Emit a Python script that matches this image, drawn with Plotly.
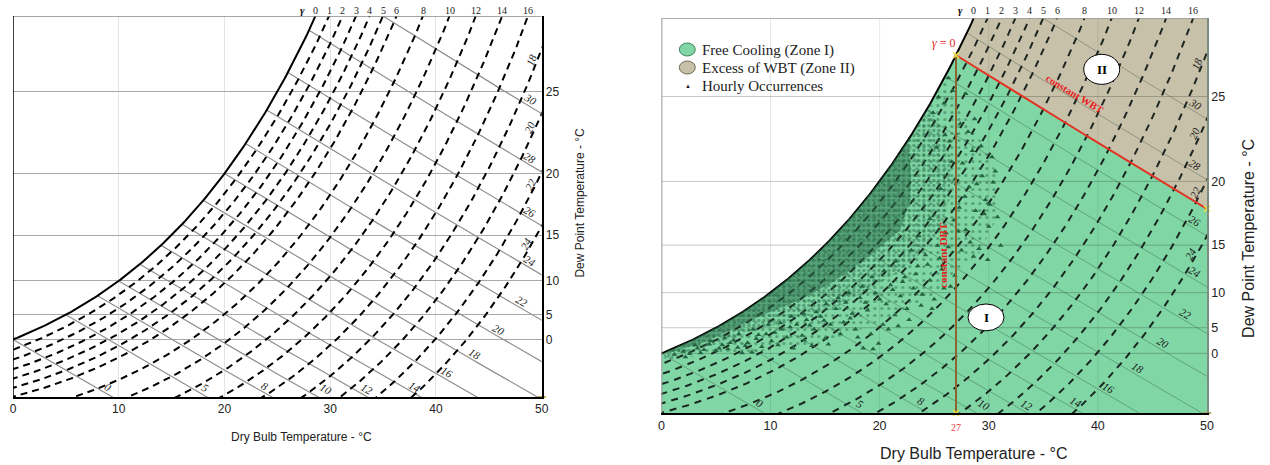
import numpy as np
import plotly.graph_objects as go

# ---------------- chart values ----------------
dbt_ticks = [0, 10, 20, 30, 40, 50]
dew_point_ticks = [0, 5, 10, 15, 20, 25]
wet_bulb_lines = [0, 5, 8, 10, 12, 14, 16, 18, 20, 22, 24, 26, 28, 30]
wet_bulb_label_dbt = [9.0, 18.2, 23.8, 29.6, 33.5, 38.0, 41.0, 43.7, 46.0, 48.1, 48.9, 48.9, 48.9, 48.9]
gamma_lines = [1, 2, 3, 4, 5, 6, 8, 10, 12, 14, 16, 18, 20, 22, 24]
gamma_top_labels = [0, 1, 2, 3, 4, 5, 6, 8, 10, 12, 14, 16]
gamma_side_labels = [18, 20, 22, 24]
gamma_side_label_w = [22.1, 17.7, 14.0, 10.1]
dbt_limit = 27.0          # constant DBT boundary
wbt_limit = 27.0          # constant WBT boundary
W_TOP = 25.0              # humidity ratio range, g/kg

# hourly occurrences (right chart): lower edges of the dense core, medium and light zones
core_lower_dbt = [0.5, 4.0, 9.0, 12.5, 15.8, 19.0, 21.9, 22.8, 22.9]
core_lower_w = [3.75, 4.5, 6.1, 7.1, 8.3, 9.9, 11.6, 13.5, 15.0]
mid_lower_dbt = [0.3, 4.0, 9.0, 12.5, 15.8, 19.0, 21.9, 24.0, 25.5, 26.4, 26.6, 25.6, 24.6]
mid_lower_w = [3.5, 4.2, 5.3, 6.0, 6.6, 7.8, 9.0, 10.2, 11.5, 13.5, 16.0, 18.2, 19.2]
light_lower_dbt = [0.3, 4.0, 9.0, 14.0, 18.0, 22.0, 25.0, 27.0, 29.0, 30.5, 31.0, 30.0, 28.5, 27.0, 26.1]
light_lower_w = [3.2, 3.7, 3.9, 4.3, 5.2, 6.4, 7.5, 9.0, 10.0, 12.0, 14.5, 16.5, 18.0, 19.8, 21.0]
# individual scattered hours
sparse_dbt = [1.2, 2.0, 2.6, 3.3, 3.9, 4.4, 5.0, 5.6, 6.1, 6.6, 7.0, 7.4, 7.9, 8.3, 8.7,
              9.2, 9.6, 10.1, 10.7, 11.0, 11.5, 12.1, 12.4, 12.9, 13.3, 13.8, 14.0, 14.6, 15.0,
              15.5, 16.0, 16.4, 16.9, 17.3, 17.8, 18.2, 18.5, 18.9, 19.4, 19.6, 19.9, 20.3, 20.6,
              21.0, 21.4, 21.9, 22.3, 22.7,
              23.1, 23.5, 23.8, 24.2, 24.6, 25.0, 25.3, 25.7, 26.1, 26.5, 26.8,
              27.3, 27.6, 27.9, 28.2, 28.5, 28.8, 29.1, 29.4, 29.7, 30.0, 30.4, 30.8, 31.1, 29.9,
              28.1, 28.6, 27.5, 30.3,
              24.9, 25.4, 25.9, 26.3, 26.7, 26.0, 25.2, 26.6,
              2.2, 3.6, 5.3, 6.3, 7.7, 8.9, 10.4, 11.8, 13.1, 13.6, 14.9, 15.3, 16.7, 17.5, 18.0,
              18.7, 19.2, 20.0, 20.8, 21.2, 21.7, 22.1, 22.5, 23.3, 23.9, 24.4, 24.8, 25.5, 25.9,
              26.3, 26.9, 27.2, 27.8, 28.3, 28.9, 29.6, 30.1, 30.6, 29.3, 28.7, 27.9, 27.4, 26.9,
              26.4, 25.6, 24.6, 23.6, 22.9, 21.5, 20.4, 19.3, 18.4, 17.2, 16.2, 15.1, 14.2, 13.0,
              11.9, 10.9, 9.8, 8.4, 7.1, 5.8, 4.5, 3.1]
sparse_w = [3.7, 3.9, 3.75, 4.1, 4.0, 4.35, 3.95, 4.3, 4.05, 4.6, 4.15, 3.8, 4.45, 3.85, 4.7,
            4.2, 5.0, 4.55, 4.3, 5.3, 4.8, 4.1, 5.6, 4.9, 5.9, 4.25, 5.3, 6.1, 4.7,
            5.6, 6.6, 5.0, 7.0, 6.0, 5.3, 7.3, 4.1, 6.5, 4.05, 7.6, 4.4, 5.6, 6.9,
            8.1, 6.2, 7.4, 8.6, 5.9,
            7.9, 9.3, 6.8, 10.0, 8.4, 7.2, 10.6, 9.1, 11.4, 8.0, 12.2,
            13.0, 15.8, 11.6, 14.3, 16.6, 12.8, 10.4, 15.0, 13.5, 11.8, 14.6, 12.4, 10.6, 9.7,
            17.8, 9.9, 10.3, 16.2,
            19.0, 20.0, 19.6, 21.2, 20.4, 17.6, 16.8, 15.9,
            3.55, 3.8, 4.1, 4.45, 4.25, 4.95, 5.1, 5.45, 4.6, 5.55, 5.85, 4.35, 5.75, 6.3, 4.8,
            7.0, 5.0, 7.2, 5.3, 7.8, 5.5, 8.3, 6.6, 8.8, 7.5, 9.4, 6.6, 9.8, 7.9,
            10.5, 8.7, 11.5, 13.7, 10.8, 14.5, 12.6, 13.2, 15.3, 16.9, 18.6, 20.2, 18.3, 14.8,
            17.2, 14.2, 12.3, 11.2, 10.3, 9.6, 9.0, 8.6, 8.0, 7.6, 7.3, 6.9, 6.4, 6.3,
            6.1, 5.7, 5.6, 5.3, 5.0, 4.75, 4.55, 4.3]


# ---------------- psychrometrics (101.325 kPa) ----------------
def pws(t):
    return 0.61094 * np.exp(17.625 * t / (t + 243.04))


def ws(t):
    p = pws(t)
    return 621.945 * p / (101.325 - p)


def w_wb(t, twb):
    W = ws(twb) / 1000.0
    return 1000.0 * ((2501 - 2.326 * twb) * W - 1.006 * (t - twb)) / (2501 + 1.86 * t - 4.186 * twb)


def w_gamma(t, g):
    return w_wb(t, t - g)


# ---------------- layout geometry (page pixels) ----------------
WIDTH, HEIGHT = 1270, 465
L_X = [10, 540]; L_Y = [397, 16]
R_X = [660, 1207]; R_Y = [413, 18]
ML = L_X[0]
MT = L_Y[1]
MR = WIDTH - R_X[1]
MB = HEIGHT - R_Y[0]
PW, PH = WIDTH - ML - MR, HEIGHT - MT - MB


def px(x):
    return (x - ML) / PW


def py(y):
    return (HEIGHT - MB - y) / PH


def dom_x(a, b):
    return [px(a), px(b)]


def dom_y(bot, top):
    return [py(bot), py(top)]


SERIF = "Liberation Serif, Times New Roman, serif"
SANS = "Liberation Sans, Arial, sans-serif"

fig = go.Figure()


def line(xa, ya, x, y, color, width, dash=None):
    fig.add_trace(go.Scatter(x=x, y=y, mode="lines", xaxis=xa, yaxis=ya,
                             line=dict(color=color, width=width, dash=dash),
                             hoverinfo="skip", showlegend=False))


def psychro(xa, ya, wb_color, wb_w, d_color, d_w, d_pat):
    for twb in wet_bulb_lines:
        t = np.linspace(twb, 62, 130)
        line(xa, ya, t, w_wb(t, twb), wb_color, wb_w)
    for g in gamma_lines:
        twb = np.linspace(-30, 45, 500)
        t = twb + g
        line(xa, ya, t, w_wb(t, twb), d_color, d_w, d_pat)
    t = np.linspace(-10, 35, 300)
    line(xa, ya, t, ws(t), "black", 2)


def ann(x, y, text, size, color, family=SERIF, xref="paper", yref="paper", angle=0, **kw):
    fig.add_annotation(x=x, y=y, xref=xref, yref=yref, text=text, showarrow=False,
                       textangle=angle, font=dict(family=family, size=size, color=color),
                       **({"xanchor": "center", "yanchor": "middle"} | kw))


def labels(xa, ya, sx, sy, color):
    for twb, tl in zip(wet_bulb_lines, wet_bulb_label_dbt):
        wl = max(w_wb(tl, twb), 0) + 0.5
        sl = (w_wb(tl + 0.05, twb) - w_wb(tl - 0.05, twb)) / 0.1
        ang = np.degrees(np.arctan2(-sl * sy, sx))
        ann(tl, wl, f"<i>{twb}</i>", 11, color, xref=xa, yref=ya, angle=ang)
    tg = np.linspace(0, 62, 4000)
    for g in gamma_top_labels:
        ttop = np.interp(W_TOP, w_gamma(tg, g), tg)
        ann(ttop, py(10.5), str(g), 10, "#222", xref=xa)
        if g == 0:
            ann(ttop - 1.25, py(10.5), "<b><i>γ</i></b>", 11, "#111", xref=xa)
    for g, wl in zip(gamma_side_labels, gamma_side_label_w):
        tl = float(np.interp(wl, w_gamma(tg, g), tg))
        sl = (w_gamma(tl + 0.05, g) - w_gamma(tl - 0.05, g)) / 0.1
        ang = np.degrees(np.arctan2(-sl * sy, sx))
        ann(tl - 0.55, wl, f"<i>{g}</i>", 11, color, xref=xa, yref=ya, angle=ang)


dew_w = [float(ws(t)) for t in dew_point_ticks]
dew_txt = [str(t) for t in dew_point_ticks]

# ================= LEFT CHART =================
psychro("x", "y", "#8f8f8f", 1.2, "black", 2, "7px,5px")
lsx = (L_X[1] - L_X[0]) / 50.0
lsy = (L_Y[0] - L_Y[1]) / W_TOP
labels("x", "y", lsx, lsy, "#222")

# ================= RIGHT CHART =================
GREEN = "rgb(128,214,165)"
TAN = "rgb(200,193,170)"
DK = "rgb(36,100,65)"
t_sat = np.linspace(0, dbt_limit, 120)
t_wb = np.linspace(wbt_limit, 50, 60)
w_wbl = w_wb(t_wb, wbt_limit)
gx = list(t_sat) + list(t_wb) + [50, 0]
gy = list(ws(t_sat)) + list(w_wbl) + [0, 0]
fig.add_trace(go.Scatter(x=gx, y=gy, fill="toself", fillcolor=GREEN, mode="lines",
                         line=dict(width=0, color=GREEN), xaxis="x2", yaxis="y2",
                         hoverinfo="skip", showlegend=False))
tt = np.linspace(20, 35, 600)
t_top = float(np.interp(W_TOP, ws(tt), tt))
t_s2 = np.linspace(dbt_limit, t_top, 30)
tx = list(t_s2) + [50, 50] + list(t_wb[::-1])
ty = list(ws(t_s2)) + [W_TOP, float(w_wbl[-1])] + list(w_wbl[::-1])
fig.add_trace(go.Scatter(x=tx, y=ty, fill="toself", fillcolor=TAN, mode="lines",
                         line=dict(width=0, color=TAN), xaxis="x2", yaxis="y2",
                         hoverinfo="skip", showlegend=False))
# grid drawn above zone fills
for wv in dew_w:
    line("x2", "y2", [0, 50], [wv, wv], "rgba(0,0,0,0.22)", 1)
for xv in dbt_ticks[1:-1]:
    line("x2", "y2", [xv, xv], [0, W_TOP], "rgba(0,0,0,0.09)", 1)

psychro("x2", "y2", "rgba(40,70,50,0.35)", 1, "rgba(20,30,25,0.95)", 2, "7px,6px")


def zone(lx, lw, size, solidity):
    ts = np.linspace(lx[-1] - 0.3, lx[0], 90)
    zx = list(lx) + list(ts)
    zy = list(lw) + list(ws(ts))
    fig.add_trace(go.Scatter(x=zx, y=zy, fill="toself", mode="lines", line=dict(width=0, color=DK),
                             fillcolor="rgba(0,0,0,0)",
                             fillpattern=dict(shape=".", fgcolor=DK, bgcolor="rgba(0,0,0,0)",
                                              size=size, solidity=solidity),
                             xaxis="x2", yaxis="y2", hoverinfo="skip", showlegend=False))


zone(light_lower_dbt, light_lower_w, 7, 0.15)
zone(mid_lower_dbt, mid_lower_w, 5, 0.35)
zone(core_lower_dbt, core_lower_w, 3, 0.85)
fig.add_trace(go.Scatter(x=sparse_dbt, y=sparse_w, mode="markers", xaxis="x2", yaxis="y2",
                         marker=dict(symbol="triangle-up", size=5, color=DK, line=dict(width=0)),
                         hoverinfo="skip", showlegend=False))

# boundary lines
line("x2", "y2", [dbt_limit, dbt_limit], [0, float(ws(dbt_limit))], "rgb(140,100,50)", 2)
line("x2", "y2", t_wb, w_wbl, "rgb(226,52,36)", 2)
fig.add_trace(go.Scatter(x=[dbt_limit, dbt_limit, 50], y=[float(ws(dbt_limit)), 0, float(w_wbl[-1])],
                         mode="markers", xaxis="x2", yaxis="y2", cliponaxis=False,
                         marker=dict(symbol="x-thin", size=6, line=dict(width=1.5, color="rgb(235,225,60)")),
                         hoverinfo="skip", showlegend=False))
rsx = (R_X[1] - R_X[0]) / 50.0
rsy = (R_Y[0] - R_Y[1]) / W_TOP
labels("x2", "y2", rsx, rsy, "#1a1a1a")

# corner marks
for xa, ya in [("x", "y"), ("x2", "y2")]:
    fig.add_trace(go.Scatter(x=[50], y=[0], mode="markers", xaxis=xa, yaxis=ya, cliponaxis=False,
                             marker=dict(symbol="line-ew", size=6, line=dict(width=2, color="rgb(190,170,90)")),
                             hoverinfo="skip", showlegend=False))

# zone ellipses
fig.add_shape(type="circle", xref="x2", yref="y2", x0=28.1, x1=31.4, y0=5.2, y1=6.9,
              fillcolor="white", line=dict(color="black", width=1), layer="above")
ann(29.75, 6.05, "<b>I</b>", 13, "black", xref="x2", yref="y2")
fig.add_shape(type="circle", xref="x2", yref="y2", x0=38.7, x1=42.0, y0=20.8, y1=22.7,
              fillcolor="white", line=dict(color="black", width=1), layer="above")
ann(40.35, 21.75, "<b>II</b>", 13, "black", xref="x2", yref="y2")

# red annotations
ann(25.9, 23.4, "<i>γ</i> = 0", 12, "rgb(230,40,40)", xref="x2", yref="y2")
wb_ang = np.degrees(np.arctan2(-(w_wb(38.05, wbt_limit) - w_wb(37.95, wbt_limit)) / 0.1 * rsy, rsx))
ann(37.9, 20.15, "<b>constant WBT</b>", 10.5, "rgb(230,30,30)", xref="x2", yref="y2", angle=wb_ang)
ann(25.8, 10.0, "<b>constant DBT</b>", 11, "rgb(230,30,30)", xref="x2", yref="y2", angle=-90)
ann(dbt_limit, py(427), "27", 10, "rgb(235,60,60)", xref="x2")

# legend (drawn)
fig.add_shape(type="circle", xref="paper", yref="paper", x0=px(678), x1=px(694), y0=py(56), y1=py(43),
              fillcolor=GREEN, line=dict(color="rgb(60,130,90)", width=1))
fig.add_shape(type="circle", xref="paper", yref="paper", x0=px(678), x1=px(694), y0=py(74), y1=py(61),
              fillcolor=TAN, line=dict(color="rgb(110,105,85)", width=1))
ann(px(687), py(86), "▲", 6, "#222", family=SANS)
for txt, yy in [("Free Cooling (Zone I)", 50), ("Excess of WBT (Zone II)", 68), ("Hourly Occurrences", 86)]:
    ann(px(699), py(yy), txt, 15, "#222", xanchor="left")

# borders
fig.add_shape(type="line", xref="x", yref="y", x0=0, x1=50, y0=W_TOP, y1=W_TOP, line=dict(color="#888", width=1.5))
fig.add_shape(type="line", xref="x", yref="y", x0=0, x1=0, y0=0, y1=W_TOP, line=dict(color="black", width=1.5))
fig.add_shape(type="line", xref="x2", yref="y2", x0=0, x1=50, y0=W_TOP, y1=W_TOP, line=dict(color="#999", width=1.5))
fig.add_shape(type="line", xref="x2", yref="y2", x0=0, x1=0, y0=0, y1=W_TOP, line=dict(color="#999", width=2))

# axis titles
ann(px(299), py(437), "Dry Bulb Temperature - °C", 12, "#222", family=SANS)
ann(px(578), py(203), "Dew Point Temperature - °C", 12, "#222", family=SANS, angle=-90)
ann(px(973), py(453), "Dry Bulb Temperature - °C", 16, "#222", family=SANS)
ann(px(1248), py(238), "Dew Point Temperature - °C", 16, "#222", family=SANS, angle=-90)

xcommon = dict(range=[0, 50], tickvals=dbt_ticks, zeroline=False, ticks="",
               showline=True, linecolor="black", linewidth=2)
ycommon = dict(range=[0, W_TOP], tickvals=dew_w, ticktext=dew_txt, side="right", zeroline=False, ticks="")
fig.update_layout(
    width=WIDTH, height=HEIGHT, margin=dict(l=ML, r=MR, t=MT, b=MB),
    paper_bgcolor="white", plot_bgcolor="white", showlegend=False,
    xaxis=dict(domain=dom_x(*L_X), anchor="y", showgrid=True, gridcolor="#e4e4e4",
               tickfont=dict(family=SANS, size=12, color="#222"), **xcommon),
    yaxis=dict(domain=dom_y(*L_Y), anchor="x", showgrid=True, gridcolor="#a9a9a9", gridwidth=1.3,
               showline=True, linecolor="black", linewidth=1.5,
               tickfont=dict(family=SANS, size=12, color="#222"), **ycommon),
    xaxis2=dict(domain=dom_x(*R_X), anchor="y2", showgrid=False,
                tickfont=dict(family=SANS, size=12.5, color="#222"), **xcommon),
    yaxis2=dict(domain=dom_y(*R_Y), anchor="x2", showgrid=False,
                showline=True, linecolor="#7d8d80", linewidth=1.5,
                tickfont=dict(family=SANS, size=12.5, color="#222"), **ycommon),
)
fig.write_html("out.html", config={"displayModeBar": False},
               post_script="document.body.style.margin='0';")
